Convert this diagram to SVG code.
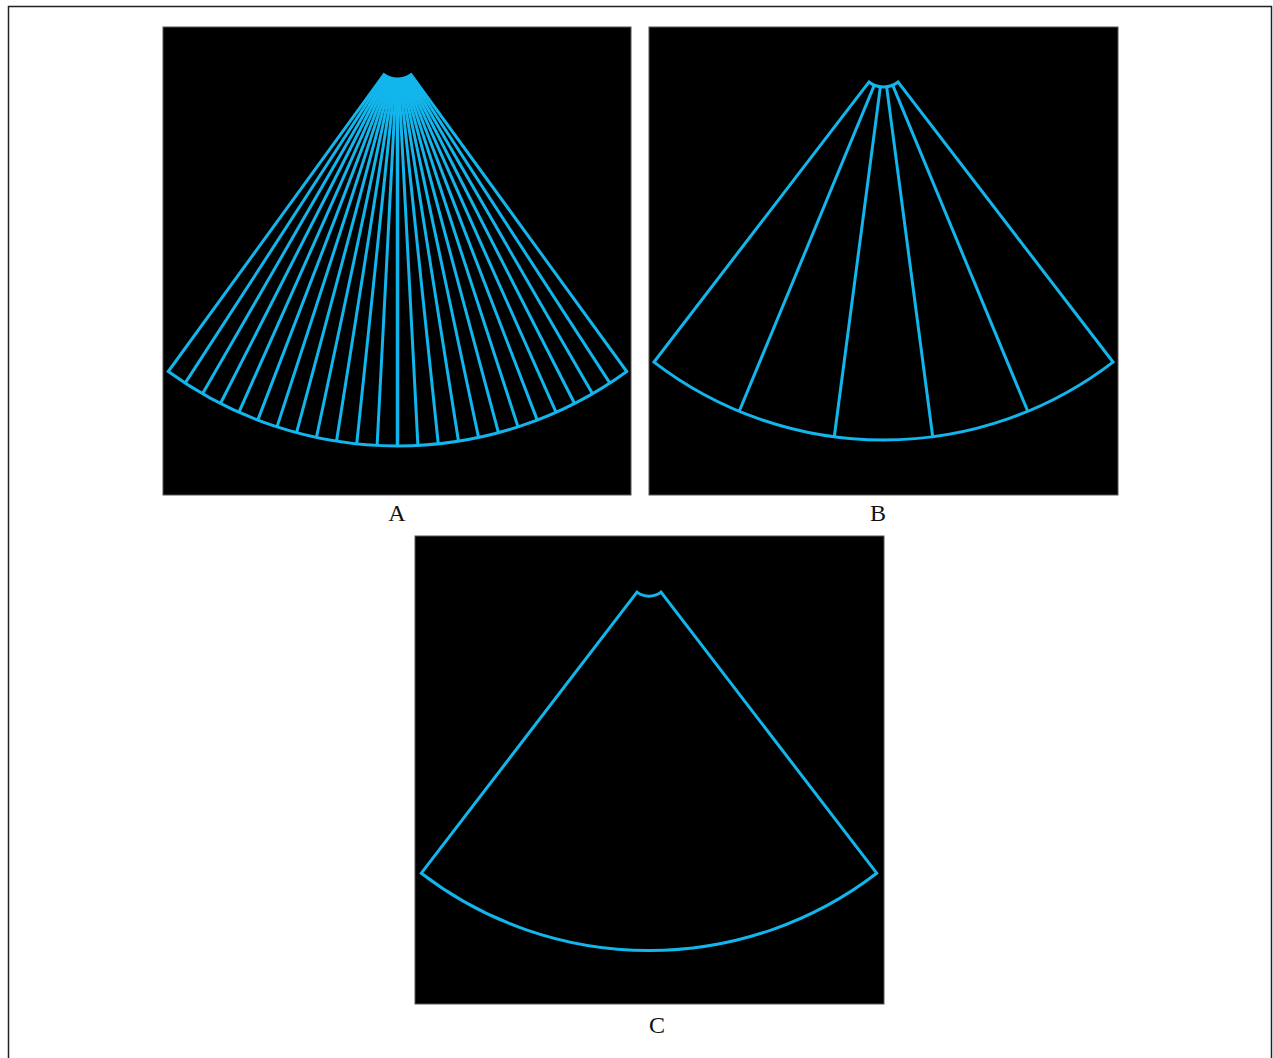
<svg xmlns="http://www.w3.org/2000/svg" width="1273" height="1058" viewBox="0 0 1273 1058">
<style>
.frame{fill:#fff;stroke:#222;stroke-width:1.5}
.panel{fill:#000;stroke:#555;stroke-width:1}
.beam{fill:none;stroke:#12b6ec;stroke-width:3;stroke-linejoin:miter;stroke-linecap:butt}
.lbl{font-family:"Liberation Serif","Times New Roman",serif;font-size:24px;fill:#111;text-anchor:middle}
</style>
<rect class="frame" x="8.5" y="6.5" width="1263" height="1060"/>

<g id="panelA">
<rect class="panel" x="163" y="27" width="468" height="468"/>
<path class="beam" d="M383.98,74.61 L168.26,371.52 A390,390 0 0 0 626.74,371.52 L411.02,74.61 A23,23 0 0 1 383.98,74.61 Z"/>
<g class="beam">
<line x1="397.5" y1="79" x2="397.5" y2="446" stroke-width="3.5"/>
<line x1="398.70" y1="78.97" x2="417.91" y2="445.47"/>
<line x1="396.30" y1="78.97" x2="377.09" y2="445.47"/>
<line x1="399.90" y1="78.87" x2="438.27" y2="443.86"/>
<line x1="395.10" y1="78.87" x2="356.73" y2="443.86"/>
<line x1="401.10" y1="78.72" x2="458.51" y2="441.20"/>
<line x1="393.90" y1="78.72" x2="336.49" y2="441.20"/>
<line x1="402.28" y1="78.50" x2="478.59" y2="437.48"/>
<line x1="392.72" y1="78.50" x2="316.41" y2="437.48"/>
<line x1="403.45" y1="78.22" x2="498.44" y2="432.71"/>
<line x1="391.55" y1="78.22" x2="296.56" y2="432.71"/>
<line x1="404.61" y1="77.87" x2="518.02" y2="426.91"/>
<line x1="390.39" y1="77.87" x2="276.98" y2="426.91"/>
<line x1="405.74" y1="77.47" x2="537.26" y2="420.10"/>
<line x1="389.26" y1="77.47" x2="257.74" y2="420.10"/>
<line x1="406.85" y1="77.01" x2="556.13" y2="412.28"/>
<line x1="388.15" y1="77.01" x2="238.87" y2="412.28"/>
<line x1="407.94" y1="76.49" x2="574.56" y2="403.49"/>
<line x1="387.06" y1="76.49" x2="220.44" y2="403.49"/>
<line x1="409.00" y1="75.92" x2="592.50" y2="393.75"/>
<line x1="386.00" y1="75.92" x2="202.50" y2="393.75"/>
<line x1="410.03" y1="75.29" x2="609.91" y2="383.08"/>
<line x1="384.97" y1="75.29" x2="185.09" y2="383.08"/>
</g>
<text class="lbl" x="397" y="521">A</text>
</g>

<g id="panelB">
<rect class="panel" x="649" y="27" width="469" height="468"/>
<path class="beam" d="M868.89,82.04 L654.0,362.09 A377,377 0 0 0 1113.0,362.09 L898.11,82.04 A24,24 0 0 1 868.89,82.04 Z"/>
<g class="beam">
<line x1="874.32" y1="85.17" x2="739.23" y2="411.30"/>
<line x1="892.68" y1="85.17" x2="1027.77" y2="411.30"/>
<line x1="880.37" y1="86.79" x2="834.29" y2="436.77"/>
<line x1="886.63" y1="86.79" x2="932.71" y2="436.77"/>
</g>
<text class="lbl" x="878" y="521">B</text>
</g>

<g id="panelC">
<rect class="panel" x="415" y="536" width="469" height="468"/>
<path class="beam" d="M637.01,592.13 L421.32,873.21 A374,374 0 0 0 876.68,873.21 L660.99,592.13 A19.7,19.7 0 0 1 637.01,592.13 Z"/>
<text class="lbl" x="657" y="1033">C</text>
</g>

<g id="connectors"></g>
</svg>
